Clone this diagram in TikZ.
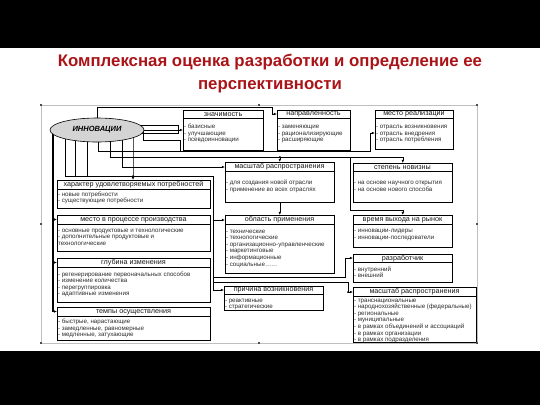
\documentclass[tikz,border=0pt]{standalone}
\usepackage{fontspec}
\setmainfont{Liberation Sans}
\usetikzlibrary{arrows.meta,shapes.geometric}
\pgfdeclarelayer{bg}
\pgfsetlayers{bg,main}
\definecolor{titlered}{RGB}{170,20,24}
\definecolor{itemgray}{RGB}{45,45,45}
\definecolor{ttlgray}{RGB}{25,25,25}
\tikzset{
  bx/.style={draw=black, line width=0.6pt, fill=white, inner sep=0pt, anchor=north west},
  boxline/.style={line width=0.6pt},
  ttl/.style={font=\fontsize{7.2}{8}\selectfont, inner sep=0pt, text=ttlgray},
  itm/.style={font=\fontsize{6.2}{6.6}\selectfont, inner sep=0pt, anchor=base west, text=itemgray},
  con/.style={line width=0.55pt, black},
  arr/.style={con, -{Latex[length=3.2pt,width=2.6pt]}},
  jdot/.style={circle, fill=black, inner sep=0pt, minimum size=2pt},
  handle/.style={fill=black!70, inner sep=0pt, minimum size=2.2pt},
  titlest/.style={font=\fontsize{16.8}{20}\selectfont\bfseries, text=titlered, inner sep=0pt},
}
% name, x1, y1, x2, y2, title-bottom, first baseline, title, items
\newcommand{\ibox}[9]{%
  \node[bx, minimum width={(#4-#2)*1pt}, minimum height={(#5-#3)*1pt}] (#1) at (#2,#3) {};
  \draw[boxline] (#2,#6) -- (#4,#6);
  \node[ttl] (#1-t) at ({(#2+#4)/2},{(#3+#6)/2+0.5}) {#8};
  \foreach \itx [count=\k from 0] in {#9}
    \node[itm] (#1-\k) at (#2+0.8,{#7+6.6*\k}) {\itx};
}
\begin{document}
\begin{tikzpicture}[x=1pt,y=-1pt]
\useasboundingbox (0,0) rectangle (540,405);
\fill[black] (0,0) rectangle (540,48);
\fill[black] (0,351) rectangle (540,405);

\node[titlest] (t1) at (270,62) {Комплексная оценка разработки и определение ее};
\node[titlest] (t2) at (270,87) {перспективности};

% ellipse
\node[ellipse, draw=black, line width=0.6pt, fill=black!17, minimum width=94pt, minimum height=24pt, inner sep=0pt] (inn) at (97,130) {\fontsize{7.5}{8}\selectfont\bfseries\itshape ИННОВАЦИИ};

% boxes
\ibox{znach}{183}{110}{263}{150}{118}{128.5}{значимость}{{- базисные},{- улучшающие},{- псевдоинновации}}
\ibox{napr}{277}{110}{350}{150}{118}{128.5}{направленность}{{- заменяющие},{- рационализирующие},{- расширяющие}}
\ibox{mesto}{375}{110}{453}{149}{118}{128.5}{место реализации}{{- отрасль возникновения},{- отрасль внедрения},{- отрасль потребления}}
\ibox{masht}{225}{162}{334}{202}{171}{184.5}{масштаб распространения}{{- для создания новой отрасли},{- применение во всех отраслях}}
\ibox{novz}{353}{163}{452}{202}{171}{184.5}{степень новизны}{{- на основе научного открытия},{- на основе нового способа}}
\ibox{khar}{57}{180}{210}{208}{189}{196}{характер удовлетворяемых потребностей}{{- новые потребности},{- существующие потребности}}
\ibox{proc}{57}{215}{210}{251}{224}{232}{место в процессе производства}{{- основные продуктовые и технологические},{- дополнительные продуктовые и},{технологические}}
\ibox{obl}{225}{215}{334}{273}{224}{233}{область применения}{{- технические},{- технологические},{- организационно-управленческие},{- маркетинговые},{- информационные},{- социальные……}}
\ibox{vrem}{353}{215}{452}{247}{224}{232.5}{время выхода на рынок}{{- инновации-лидеры},{- инновации-последователи}}
\ibox{glub}{57}{258}{210}{302}{267}{276}{глубина изменения}{{- регенерирование первоначальных способов},{- изменение количества},{- перегруппировка},{- адаптивные изменения}}
\ibox{razr}{353}{254}{452}{282}{262}{271}{разработчик}{{- внутренний},{- внешний}}
\ibox{prich}{224}{286}{323}{310}{294}{302}{причина возникновения}{{- реактивные},{- стратегические}}
\ibox{masht2}{353}{287}{476}{342}{296}{302}{масштаб распространения}{{- транснациональные},{- народнохозяйственные (федеральные)},{- региональные},{- муниципальные},{- в рамках объединений и ассоциаций},{- в рамках организации},{- в рамках подразделения}}
\ibox{temp}{57}{307}{210}{340}{316}{323.5}{темпы осуществления}{{- быстрые, нарастающие},{- замедленные, равномерные},{- медленные, затухающие}}

% frame handles
\foreach \hx/\hy [count=\h] in {41/105,259/105,477/105,41/224,477/224,41/343,259/343,477/343}
  \node[handle] (hd\h) at (\hx,\hy) {};

\begin{pgfonlayer}{bg}
  \draw[black!25, line width=0.5pt] (41,105) rectangle (477,343);
  % to направленность
  \draw[arr] (inn.center) -- (97,107) -- (272,107) -- (272,114) -- (napr.west |- 0,114);
  % to значимость
  \draw[arr] (inn.center) -- (znach.west |- inn.center);
  \draw[con] (140,125) -- (178,125) -- (178,133) -- (140,133);
  % to место реализации
  \draw[arr] (98,130) -- (98,151) -- (370,151) -- (370,133) -- (mesto.west |- 0,133);
  % to степень новизны, масштаб, время выхода
  \draw[arr] (110,130) -- (110,157) -- (novz.north |- 0,157) -- (novz.north);
  \draw[arr] (masht.north |- 0,157) -- (masht.north);
  \node[jdot] (d1) at (masht.north |- 0,157) {};
  \draw[arr] (350,157) -- (350,210) -- (vrem.north |- 0,210) -- (vrem.north);
  \draw[arr] (masht.south) -- (obl.north);
  % to масштаб (left side)
  \draw[arr] (122,130) -- (122,167) -- (masht.west |- 0,167);
  % bus at y=176
  \draw[con] (65,130) -- (65,176);
  \draw[con] (75,130) -- (75,176);
  \draw[con] (87,130) -- (87,176);
  \draw[con] (143,130) -- (143,140) -- (180,140) -- (180,151);
  \draw[arr] (133,130) -- (133,176) -- (khar.north -| 133,0);
  \node[jdot] (d2) at (133,176) {};
  \draw[arr] (65,176) -- (213,176) -- (213,290) -- (prich.west |- 0,290);
  \draw[arr] (213,220) -- (obl.west |- 0,220);
  \draw[arr] (213,277) -- (345,277) -- (345,258) -- (razr.west |- 0,258);
  \draw[arr] (213,282) -- (348,282) -- (348,292) -- (masht2.west |- 0,292);
  \node[jdot] (d3) at (348,292) {};
  % thick left line
  \draw[con, line width=1.1pt] (53,130) -- (53,311.5);
  \draw[arr] (53,219.5) -- (proc.west |- 0,219.5);
  \draw[arr] (53,262.5) -- (glub.west |- 0,262.5);
  \draw[arr] (53,311.5) -- (temp.west |- 0,311.5);
  \node[jdot] (d4) at (53,219.5) {};
\end{pgfonlayer}
\end{tikzpicture}
\end{document}
